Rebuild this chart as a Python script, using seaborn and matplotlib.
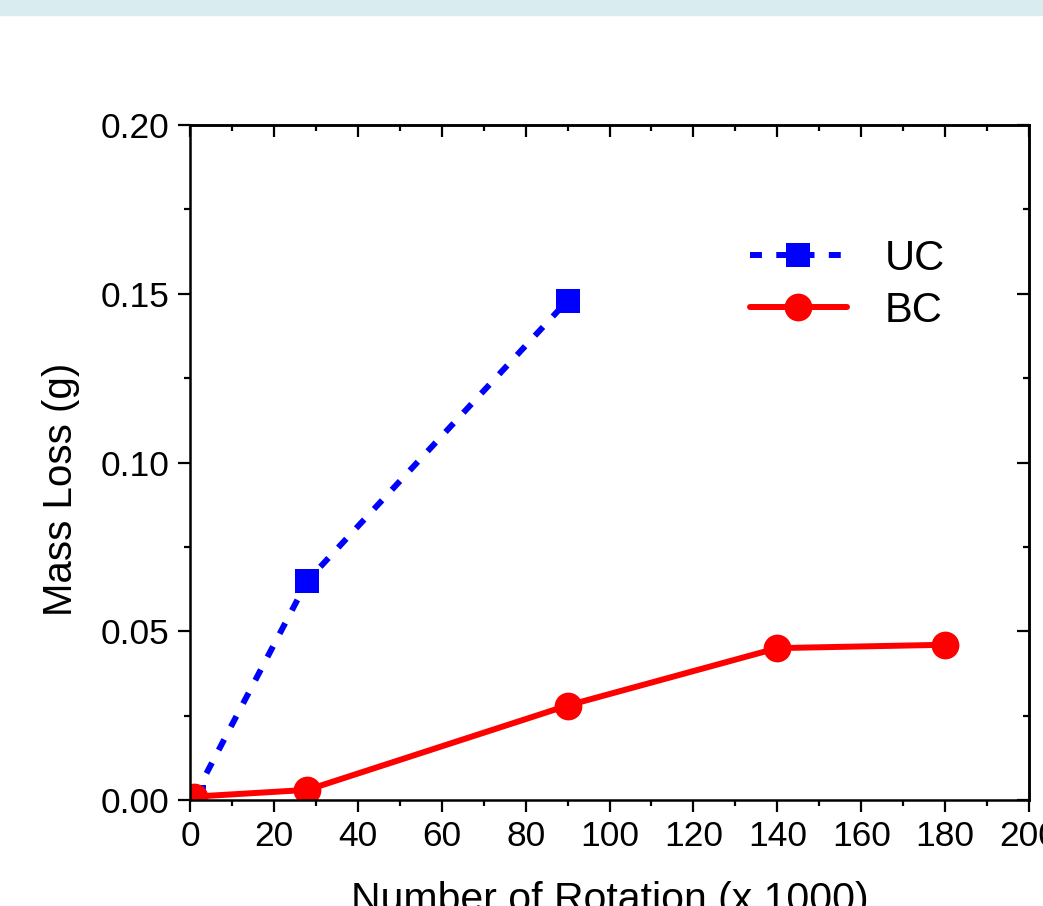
import numpy as np
import pandas as pd
import seaborn as sns
import matplotlib.pyplot as plt
from matplotlib.patches import Rectangle
from matplotlib.ticker import MultipleLocator, FormatStrFormatter

# data
uc_rotation = [1, 28, 90]
uc_mass_loss = [0.001, 0.065, 0.148]
bc_rotation = [1, 28, 90, 140, 180]
bc_mass_loss = [0.001, 0.003, 0.028, 0.045, 0.046]

sns.set_style("ticks")
plt.rcParams['font.family'] = ['Liberation Sans', 'DejaVu Sans']
plt.rcParams['text.color'] = 'black'
plt.rcParams['axes.labelcolor'] = 'black'

fig = plt.figure(figsize=(10.43, 9.06), dpi=100)
ax = fig.add_axes([0.1822, 0.117, 0.8044, 0.745])

# light band on top of the picture
fig.patches.append(Rectangle((0, 1 - 15 / 906), 1, 15 / 906, transform=fig.transFigure,
                             color='#d9ecef', zorder=0))

sns.lineplot(x=uc_rotation, y=uc_mass_loss, ax=ax, color='#0000ff', marker='s',
             markersize=17.5, markeredgewidth=0, linewidth=4.3,
             linestyle=(0, (2, 2.4)), label='UC')
sns.lineplot(x=bc_rotation, y=bc_mass_loss, ax=ax, color='#ff0000', marker='o',
             markersize=20, markeredgewidth=0, linewidth=4.3, label='BC')

ax.set_xlim(0, 200)
ax.set_ylim(0, 0.20)
ax.xaxis.set_major_locator(MultipleLocator(20))
ax.xaxis.set_minor_locator(MultipleLocator(10))
ax.yaxis.set_major_locator(MultipleLocator(0.05))
ax.yaxis.set_minor_locator(MultipleLocator(0.025))
ax.yaxis.set_major_formatter(FormatStrFormatter('%.2f'))

for side in ['left', 'right', 'top', 'bottom']:
    ax.spines[side].set_linewidth(1.8)
    ax.spines[side].set_color('black')

ax.tick_params(which='both', direction='out', width=1.6, colors='black',
               labelsize=25.5, pad=6)
ax.tick_params(which='major', length=8.6)
ax.tick_params(which='minor', length=4.3)

# inward ticks on the top and right
top = ax.secondary_xaxis('top')
top.set_xticks(np.arange(0, 201, 20))
top.xaxis.set_minor_locator(MultipleLocator(10))
top.tick_params(which='both', direction='in', width=1.6, colors='black', labeltop=False)
top.tick_params(which='major', length=8.6)
top.tick_params(which='minor', length=4.3)
top.spines['top'].set_linewidth(1.8)
top.spines['top'].set_color('black')
right = ax.secondary_yaxis('right')
right.set_yticks(np.arange(0, 0.201, 0.05))
right.yaxis.set_minor_locator(MultipleLocator(0.025))
right.tick_params(which='both', direction='in', width=1.6, colors='black', labelright=False)
right.tick_params(which='major', length=8.6)
right.tick_params(which='minor', length=4.3)
right.spines['right'].set_linewidth(1.8)
right.spines['right'].set_color('black')

ax.set_xlabel('Number of Rotation (x 1000)', fontsize=29.5, labelpad=20, color='black')
ax.set_ylabel('Mass Loss (g)', fontsize=29, color='black')
ax.yaxis.set_label_coords(-0.131, 0.46)

leg = ax.legend(loc='upper left', bbox_to_anchor=(0.647, 0.856), frameon=False,
                fontsize=30, handlelength=2.35, handletextpad=0.9, labelspacing=0.28,
                numpoints=1, borderaxespad=0)
for t in leg.get_texts():
    t.set_color('black')

fig.savefig('out.png', dpi=100)
